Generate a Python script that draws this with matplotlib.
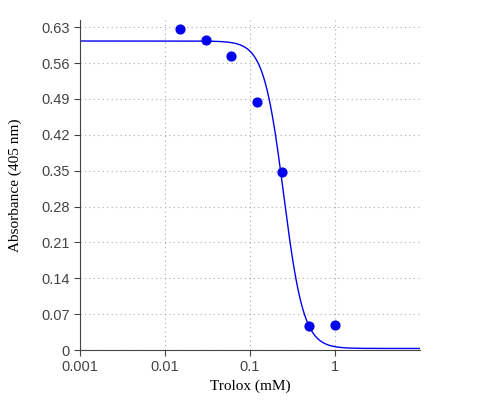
import matplotlib

matplotlib.use("Agg")

import matplotlib.pyplot as plt
import numpy as np

# measured points
trolox_mm = [0.015, 0.03, 0.06, 0.12, 0.24, 0.5, 1.0]
absorbance = [0.626, 0.605, 0.574, 0.484, 0.348, 0.047, 0.049]

# 4-parameter logistic fit
FIT_TOP = 0.603
FIT_BOTTOM = 0.003
FIT_IC50 = 0.249
FIT_HILL = 3.7

Y_TICKS = [0, 0.07, 0.14, 0.21, 0.28, 0.35, 0.42, 0.49, 0.56, 0.63]
X_TICKS = [0.001, 0.01, 0.1, 1]
X_LABELS = ["0.001", "0.01", "0.1", "1"]

plt.rcParams["font.family"] = ["Liberation Serif", "DejaVu Serif"]

fig = plt.figure(figsize=(5, 4), dpi=100)
ax = fig.add_axes([0.16, 0.125, 0.68, 0.825])

xs = np.logspace(-3, 1, 400)
curve = FIT_BOTTOM + (FIT_TOP - FIT_BOTTOM) / (1 + (xs / FIT_IC50) ** FIT_HILL)
ax.plot(xs, curve, color="#0000ee", lw=1)
ax.scatter(trolox_mm, absorbance, color="#0000ee", s=40, zorder=3)

ax.set_xscale("log")
ax.set_xlim(0.001, 10)
ax.set_ylim(0, 0.644)
ax.set_xticks(X_TICKS)
ax.set_xticklabels(X_LABELS)
ax.minorticks_off()
ax.set_yticks(Y_TICKS)
ax.set_yticklabels(["0"] + [f"{v:.2f}" for v in Y_TICKS[1:]])
for lab in ax.get_xticklabels() + ax.get_yticklabels():
    lab.set_family(["Liberation Sans", "DejaVu Sans"])
ax.grid(True, color="#aaaaaa", linestyle=(0, (1, 3)), lw=0.8)
ax.tick_params(colors="#444444", labelsize=10.5, length=4)
for side in ["top", "right"]:
    ax.spines[side].set_visible(False)
for side in ["left", "bottom"]:
    ax.spines[side].set_color("#444444")
ax.set_xlabel("Trolox (mM)", fontsize=11)
ax.set_ylabel("Absorbance (405 nm)", fontsize=11, labelpad=14)

fig.savefig("out.png", dpi=100)
